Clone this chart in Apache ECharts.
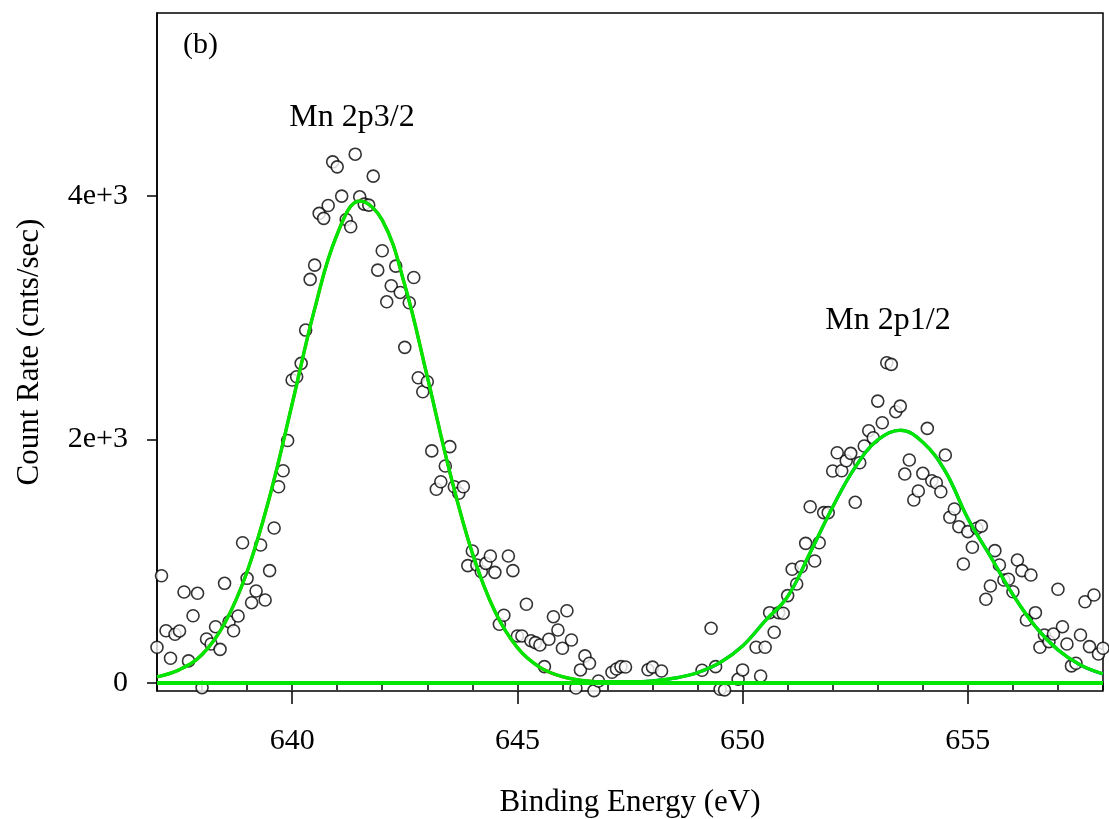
<!DOCTYPE html>
<html>
<head>
<meta charset="utf-8">
<script src="https://cdn.jsdelivr.net/npm/echarts@6/dist/echarts.min.js"></script>
<style>
  html, body { margin: 0; padding: 0; background: #fff; }
  #chart { width: 1109px; height: 819px; }
</style>
</head>
<body>
<div id="chart"></div>
<script>
// measured points (binding energy in eV, count rate in cnts/sec)
var energy = [
  637.0,637.1,637.2,637.3,637.4,637.5,637.6,637.7,637.8,637.9,
  638.0,638.1,638.2,638.3,638.4,638.5,638.6,638.7,638.8,638.9,
  639.0,639.1,639.2,639.3,639.4,639.5,639.6,639.7,639.8,639.9,
  640.0,640.1,640.2,640.3,640.4,640.5,640.6,640.7,640.8,640.9,
  641.0,641.1,641.2,641.3,641.4,641.5,641.6,641.7,641.8,641.9,
  642.0,642.1,642.2,642.3,642.4,642.5,642.6,642.7,642.8,642.9,
  643.0,643.1,643.2,643.3,643.4,643.5,643.6,643.7,643.8,643.9,
  644.0,644.1,644.2,644.3,644.4,644.5,644.6,644.7,644.8,644.9,
  645.0,645.1,645.2,645.3,645.4,645.5,645.6,645.7,645.8,645.9,
  646.0,646.1,646.2,646.3,646.4,646.5,646.6,646.7,646.8,
  647.1,647.2,647.3,647.4,647.9,648.0,648.2,
  649.1,649.3,649.4,649.5,649.6,649.9,
  650.0,650.3,650.4,650.5,650.6,650.7,650.8,650.9,
  651.0,651.1,651.2,651.3,651.4,651.5,651.6,651.7,651.8,651.9,
  652.0,652.1,652.2,652.3,652.4,652.5,652.6,652.7,652.8,652.9,
  653.0,653.1,653.2,653.3,653.4,653.5,653.6,653.7,653.8,653.9,
  654.0,654.1,654.2,654.3,654.4,654.5,654.6,654.7,654.8,654.9,
  655.0,655.1,655.2,655.3,655.4,655.5,655.6,655.7,655.8,655.9,
  656.0,656.1,656.2,656.3,656.4,656.5,656.6,656.7,656.8,656.9,
  657.0,657.1,657.2,657.3,657.4,657.5,657.6,657.7,657.8,657.9,
  658.0
];
var counts = [
  293,880,429,203,400,427,747,181,552,736,
  -38,361,320,462,276,818,503,429,550,1151,
  859,659,755,1133,681,922,1272,1611,1742,1990,
  2487,2514,2624,2897,3313,3430,3855,3814,3920,4278,
  4237,3997,3805,3745,4341,3991,3931,3923,4161,3389,
  3548,3129,3261,3422,3206,2755,3121,3329,2506,2391,
  2473,1905,1590,1652,1781,1940,1611,1557,1611,963,
  1083,968,913,982,1042,908,482,556,1042,922,
  386,386,646,347,331,312,134,359,544,435,
  285,593,353,-41,107,222,162,-63,16,
  88,115,134,131,108,130,98,
  104,449,134,-52,-57,30,
  107,293,57,293,577,416,577,572,
  717,933,812,954,1146,1447,1001,1151,1398,1398,
  1740,1890,1742,1824,1885,1483,1808,1945,2071,2013,
  2314,2136,2629,2615,2227,2273,1715,1830,1502,1576,
  1721,2090,1660,1644,1570,1871,1360,1428,1283,977,
  1242,1114,1270,1288,687,796,1086,968,845,851,
  749,1009,922,517,886,577,293,394,339,402,
  769,462,320,140,162,394,667,298,722,238,
  285
];

// fitted curves, read every 0.5 eV
var fitEnergy = [
  637,637.5,638,638.5,639,639.5,640,640.5,641,641.5,642,642.5,643,643.5,
  644,644.5,645,645.5,646,646.5,647,647.5,648,648.5,649,649.5,650,650.5,
  651,651.5,652,652.5,653,653.5,654,654.5,655,655.5,656,656.5,657,657.5,658
];
var fitPeak1 = [
  50,110,233,488,913,1528,2290,3071,3684,3956,3800,3267,2514,1731,
  1066,588,290,128,51,18,6,2,0,0,0,0,0,0,
  0,0,0,0,0,0,0,0,0,0,0,0,0,0,0
];
var fitPeak2 = [
  0,0,0,0,0,0,0,0,0,0,0,0,0,0,
  0,0,0,0,1,1,3,7,17,40,85,167,304,510,
  710,1070,1445,1772,1995,2075,1976,1737,1350,1040,725,463,272,147,74
];
var fitTotal = [
  50,110,233,488,913,1528,2290,3071,3684,3956,3800,3267,2514,1731,
  1066,588,290,128,52,19,9,9,17,40,85,167,304,510,
  710,1070,1445,1772,1995,2075,1976,1737,1350,1040,725,463,272,147,74
];
var baseEnergy = [637, 658];
var baseCounts = [0, 0];

var xMajorTicks = [640, 645, 650, 655];
var yTickValues = [0, 2000, 4000];
var yTickLabels = ['0', '2e+3', '4e+3'];

function pairs(xs, ys) {
  return xs.map(function (x, i) { return [x, ys[i]]; });
}

var serif = "'Liberation Serif', 'Times New Roman', serif";
var green = '#00e600';

var option = {
  backgroundColor: '#fff',
  animation: false,
  grid: {
    left: 157, right: 6, top: 13, bottom: 128,
    outerBoundsMode: 'none', containLabel: false,
    show: true, borderColor: '#000', borderWidth: 1.5
  },
  xAxis: [
    {
      type: 'value', min: 637, max: 658, interval: 1,
      axisLine: { lineStyle: { color: '#000', width: 1.5 } },
      axisTick: { length: 7, lineStyle: { color: '#000', width: 1.5 } },
      axisLabel: { show: false },
      splitLine: { show: false }
    },
    {
      type: 'value', min: 637, max: 658, position: 'bottom',
      axisLine: { show: false },
      axisTick: { customValues: xMajorTicks, length: 13, lineStyle: { color: '#000', width: 1.5 } },
      axisLabel: {
        customValues: xMajorTicks, margin: 35,
        color: '#000', fontSize: 30, fontFamily: serif
      },
      splitLine: { show: false },
      name: 'Binding Energy (eV)', nameLocation: 'middle', nameGap: 96,
      nameTextStyle: { color: '#000', fontSize: 31, fontFamily: serif }
    }
  ],
  yAxis: {
    type: 'value', min: -66, max: 5500,
    axisLine: { show: true, lineStyle: { color: '#000', width: 1.5 } },
    axisTick: { show: true, customValues: yTickValues, length: 10, lineStyle: { color: '#000', width: 1.5 } },
    axisLabel: {
      customValues: yTickValues, margin: 29,
      color: '#000', fontSize: 30, fontFamily: serif,
      formatter: function (v) { return yTickLabels[yTickValues.indexOf(v)]; }
    },
    splitLine: { show: false },
    name: 'Count Rate (cnts/sec)', nameLocation: 'middle', nameGap: 112, nameRotate: 90,
    nameTextStyle: { color: '#000', fontSize: 31, fontFamily: serif }
  },
  graphic: [
    { type: 'text', left: 183, top: 30, style: { text: '(b)', font: '30px ' + serif, fill: '#000' } },
    { type: 'text', x: 352, y: 118, style: { text: 'Mn 2p3/2', font: '32px ' + serif, fill: '#000', textAlign: 'center', textVerticalAlign: 'middle' } },
    { type: 'text', x: 888, y: 321, style: { text: 'Mn 2p1/2', font: '32px ' + serif, fill: '#000', textAlign: 'center', textVerticalAlign: 'middle' } }
  ],
  series: [
    {
      type: 'scatter', data: pairs(energy, counts), clip: false, z: 2,
      symbol: 'circle', symbolSize: 12,
      itemStyle: { color: '#fff', borderColor: '#000', borderWidth: 1.6 }
    },
    {
      type: 'line', data: pairs(fitEnergy, fitPeak1), smooth: 0.4, showSymbol: false, z: 3,
      lineStyle: { color: '#ff0000', width: 3 }
    },
    {
      type: 'line', data: pairs(fitEnergy, fitPeak2), smooth: 0.4, showSymbol: false, z: 3,
      lineStyle: { color: '#0000ff', width: 3 }
    },
    {
      type: 'line', data: pairs(fitEnergy, fitTotal), smooth: 0.4, showSymbol: false, z: 4,
      lineStyle: { color: green, width: 3.5 }
    },
    {
      type: 'line', data: pairs(baseEnergy, baseCounts), showSymbol: false, z: 5,
      lineStyle: { color: green, width: 4 }
    }
  ]
};

var mychart = echarts.init(document.getElementById('chart'));
mychart.setOption(option);
</script>
</body>
</html>
